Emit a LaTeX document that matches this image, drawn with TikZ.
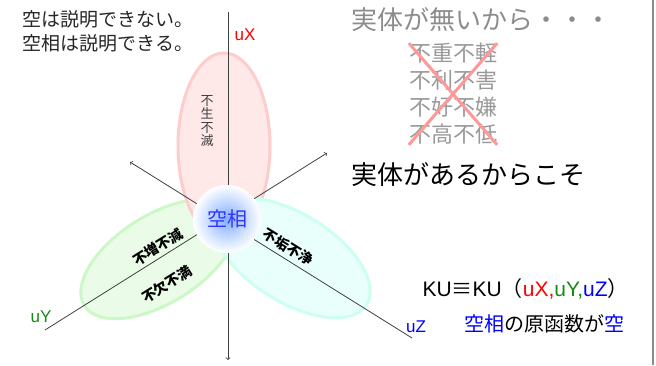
\documentclass[tikz,border=0pt]{standalone}
\usepackage{fontspec}
\setmainfont{Liberation Sans}
\newfontfamily\jp{Noto Sans CJK JP}
\usetikzlibrary{shapes.geometric}
\definecolor{rosefond}{RGB}{255,232,232}
\definecolor{rosebord}{RGB}{255,204,204}
\definecolor{vertfond}{RGB}{234,252,232}
\definecolor{vertbord}{RGB}{204,248,200}
\definecolor{cyanfond}{RGB}{232,255,252}
\definecolor{cyanbord}{RGB}{204,255,240}
\definecolor{bleucoeur}{RGB}{130,175,255}
\definecolor{vertaxe}{RGB}{20,140,20}

\begin{document}
\begin{tikzpicture}[x=1pt,y=-1pt]
\tikzstyle{axe}=[black!75, line width=0.8pt]
\tikzstyle{petale}=[ellipse, inner sep=0pt, line width=3pt, minimum width=176pt, minimum height=88pt]
\tikzstyle{mot}=[inner sep=0pt, font=\jp\bfseries\fontsize{14}{14}\selectfont]
\tikzstyle{nomaxe}=[font=\fontsize{17}{17}\selectfont]
\tikzstyle{gris}=[text=black!40, font=\jp\fontsize{22}{27}\selectfont]
\useasboundingbox (0,0) rectangle (656,365);
\node[petale, rotate=32, draw=vertbord, fill=vertfond] (vert) at (159,259) {};
\node[petale, minimum width=92pt, minimum height=186pt, draw=rosebord, fill=rosefond] (rose) at (224,146) {};
\node[petale, rotate=-32, draw=cyanbord, fill=cyanfond] (cyan) at (292,258) {};
\coordinate (xhaut) at (228,12);
\coordinate (xbas) at (228,360);
\coordinate (ybout) at (45,330);
\coordinate (yfleche) at (327,153);
\coordinate (zbout) at (412,338);
\coordinate (zfleche) at (130,162);
\draw[axe,->] (xhaut) -- (xbas);
\draw[axe,->] (ybout) -- (yfleche);
\draw[axe,->] (zbout) -- (zfleche);
\node[circle, inner sep=0pt, minimum size=68pt, inner color=bleucoeur, outer color=white] (kuso) at (227,219) {};
\node[text=blue!80, font=\jp\fontsize{20}{20}\selectfont] (kusotxt) at (kuso) {空相};
\node[align=center, text=black!75, font=\jp\fontsize{13}{13.5}\selectfont] (fusho) at (207,121) {不\\生\\不\\滅};
\node[mot, rotate=32] (zogen) at (158,247) {不増不減};
\node[mot, rotate=32] (ketsu) at (167,284) {不欠不満};
\node[mot, rotate=-32] (kuzyo) at (288,247) {不垢不浄};
\node[nomaxe, text=red] (lx) at (245,35) {uX};
\node[nomaxe, text=vertaxe] (ly) at (41,317) {uY};
\node[nomaxe, text=blue] (lz) at (416,327) {uZ};
\node[anchor=west, align=left, text=black!85, font=\jp\fontsize{19}{24}\selectfont] (intro) at (19,31) {空は説明できない。\\空相は説明できる。};
\node[anchor=west, text=black!45, font=\jp\fontsize{26}{26}\selectfont] (sans) at (348,20) {実体が無いから・・・};
\node[gris, align=left, inner sep=0pt] (liste) at (453,94) {不重不軽\\不利不害\\不好不嫌\\不高不低};
\draw[red!40, line width=3pt] (liste.north west) -- (liste.south east);
\draw[red!40, line width=3pt] (liste.north east) -- (liste.south west);
\node[anchor=west, font=\jp\fontsize{26}{26}\selectfont] (avec) at (348,175) {実体があるからこそ};
\node[anchor=west, font=\fontsize{21}{21}\selectfont] (formule) at (419,289) {KU{\jp ≡}KU{\jp （}\textcolor{red}{uX,}\textcolor{vertaxe}{uY,}\textcolor{blue}{uZ}{\jp ）}};
\node[anchor=west, font=\jp\fontsize{20}{20}\selectfont] (origine) at (461,324) {\textcolor{blue}{空相}の原函数が\textcolor{blue}{空}};
\coordinate (bordhaut) at (653,0);
\coordinate (bordbas) at (653,365);
\draw[black!45, line width=2pt] (bordhaut) -- (bordbas);
\end{tikzpicture}
\end{document}
